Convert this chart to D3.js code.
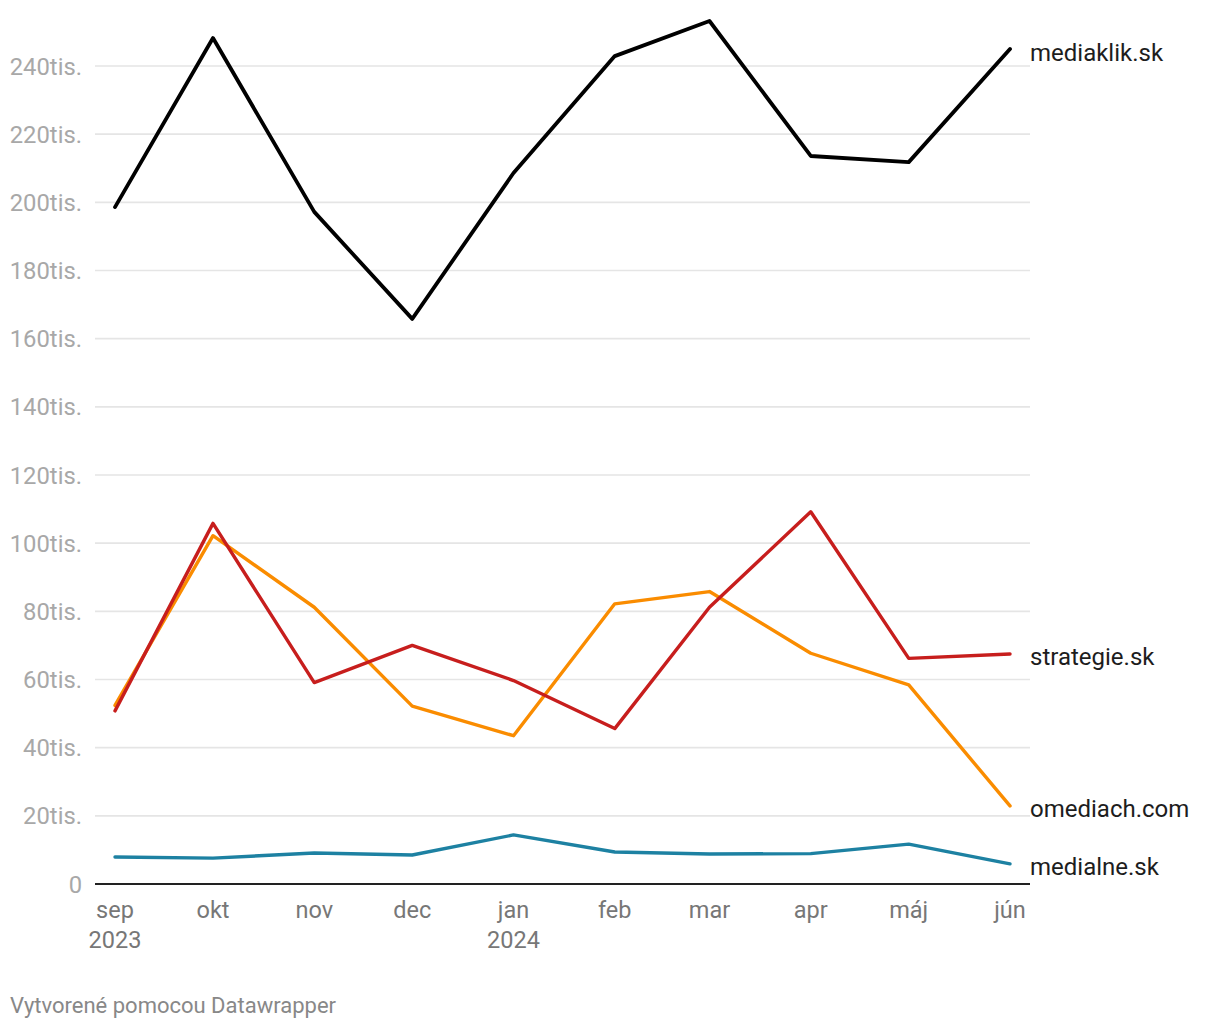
<!DOCTYPE html>
<html>
<head>
<meta charset="utf-8">
<script src="https://cdn.jsdelivr.net/npm/d3@7"></script>
<style>
  html, body { margin: 0; padding: 0; background: #fff; }
  svg { display: block; font-family: Roboto, "Noto Sans", sans-serif; }
</style>
</head>
<body>
<svg id="chart" width="1220" height="1030"></svg>
<script>
// ---- data ----
const months = ["2023-09-01","2023-10-01","2023-11-01","2023-12-01","2024-01-01","2024-02-01","2024-03-01","2024-04-01","2024-05-01","2024-06-01"];
const monthLabels = ["sep","okt","nov","dec","jan","feb","mar","apr","máj","jún"];
const yearLabels = {"2023-09-01": "2023", "2024-01-01": "2024"};
const seriesNames = ["medialne.sk", "omediach.com", "strategie.sk", "mediaklik.sk"];
const medialne  = [7900, 7600, 9100, 8500, 14400, 9400, 8800, 8900, 11700, 5900];
const omediach  = [52400, 102200, 81200, 52200, 43500, 82200, 85800, 67700, 58400, 22900];
const strategie = [50800, 105800, 59100, 70000, 59700, 45600, 81200, 109200, 66200, 67500];
const mediaklik = [198600, 248200, 197200, 165800, 208600, 242900, 253200, 213600, 211800, 245000];
const yTicks = [0, 20000, 40000, 60000, 80000, 100000, 120000, 140000, 160000, 180000, 200000, 220000, 240000];
const footerText = "Vytvorené pomocou Datawrapper";

const seriesValues = [medialne, omediach, strategie, mediaklik];
const seriesColors = ["#1d81a2", "#fa8c00", "#c71e1d", "#000000"];
const seriesWidths = [3.4, 3.4, 3.4, 3.8];

// ---- layout ----
const svg = d3.select("#chart");
const parse = d3.timeParse("%Y-%m-%d");
const dates = months.map(parse);

const x = d3.scaleTime().domain([dates[0], dates[dates.length - 1]]).range([115, 1010]);
const y = d3.scaleLinear().domain([0, 240000]).range([884, 66]);
const gridLeft = 95, gridRight = 1030;

// gridlines
svg.append("g").selectAll("line")
  .data(yTicks.filter(d => d !== 0))
  .join("line")
  .attr("x1", gridLeft).attr("x2", gridRight)
  .attr("y1", d => y(d)).attr("y2", d => y(d))
  .attr("stroke", "#e5e5e5").attr("stroke-width", 1.6);

// y tick labels
svg.append("g").selectAll("text")
  .data(yTicks)
  .join("text")
  .attr("x", 82)
  .attr("y", d => y(d) + 8.5)
  .attr("text-anchor", "end")
  .attr("fill", "#a8a8a8")
  .style("font-size", "23.8px")
  .text(d => d === 0 ? "0" : (d / 1000) + "tis.");

// baseline
svg.append("line")
  .attr("x1", gridLeft).attr("x2", gridRight)
  .attr("y1", y(0)).attr("y2", y(0))
  .attr("stroke", "#222").attr("stroke-width", 2);

// x labels
const xg = svg.append("g");
dates.forEach((d, i) => {
  xg.append("text")
    .attr("x", x(d)).attr("y", 918)
    .attr("text-anchor", "middle")
    .attr("fill", "#777")
    .style("font-size", "23.5px")
    .text(monthLabels[i]);
  if (yearLabels[months[i]]) {
    xg.append("text")
      .attr("x", x(d)).attr("y", 948)
      .attr("text-anchor", "middle")
      .attr("fill", "#777")
      .style("font-size", "23.5px")
      .text(yearLabels[months[i]]);
  }
});

// lines
const line = d3.line()
  .x((v, i) => x(dates[i]))
  .y(v => y(v));

svg.append("g").selectAll("path")
  .data(seriesValues)
  .join("path")
  .attr("d", line)
  .attr("fill", "none")
  .attr("stroke", (d, i) => seriesColors[i])
  .attr("stroke-width", (d, i) => seriesWidths[i])
  .attr("stroke-linejoin", "round")
  .attr("stroke-linecap", "round");

// series labels
svg.append("g").selectAll("text")
  .data(seriesValues)
  .join("text")
  .attr("x", 1030)
  .attr("y", (d, i) => y(d[d.length - 1]) + (i === 3 ? 12.5 : 11))
  .attr("fill", "#1d1d1d")
  .style("font-size", "24px")
  .text((d, i) => seriesNames[i]);

// footer
svg.append("text")
  .attr("x", 10).attr("y", 1013)
  .attr("fill", "#888")
  .style("font-size", "22px")
  .text(footerText);
</script>
</body>
</html>
